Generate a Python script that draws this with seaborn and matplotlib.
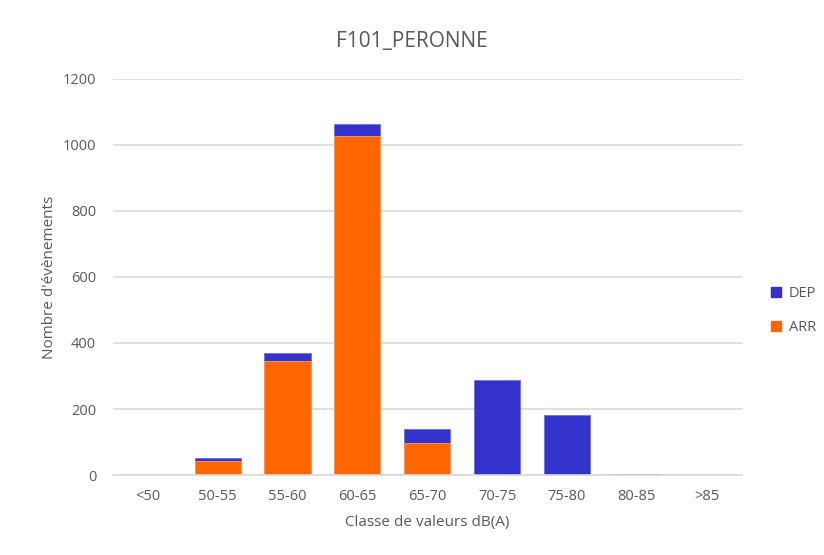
import matplotlib
matplotlib.use('Agg')
import matplotlib.pyplot as plt
import seaborn as sns
import pandas as pd
from matplotlib.patches import Patch

# data
classes = ['<50', '50-55', '55-60', '60-65', '65-70', '70-75', '75-80', '80-85', '>85']
arr = [0, 44, 345, 1026, 96, 0, 0, 0, 0]
dep = [0, 9, 24, 38, 43, 289, 181, 4, 0]

df = pd.DataFrame({'classe': classes, 'ARR': arr, 'DEP': dep})
df['total'] = df['ARR'] + df['DEP']

col_dep = '#3333CC'
col_arr = '#FF6600'
txt = '#595959'
grid = '#D9D9D9'

sns.set_theme(style='white')
plt.rcParams['font.family'] = ['Open Sans', 'DejaVu Sans']

fig = plt.figure(figsize=(8.24, 5.55), dpi=100)
ax = fig.add_axes([0.137, 0.144, 0.763, 0.714])

# stacked: full height in DEP colour, ARR drawn over the lower part
sns.barplot(data=df, x='classe', y='total', color=col_dep, width=0.66,
            edgecolor='#7070DD', linewidth=0.6, saturation=1, ax=ax)
sns.barplot(data=df, x='classe', y='ARR', color=col_arr, width=0.66,
            edgecolor='#FFA060', linewidth=0.6, saturation=1, ax=ax)

ax.set_ylim(0, 1200)
ax.set_yticks(range(0, 1201, 200))
ax.set_xlim(-0.5, len(classes) - 0.5)
ax.yaxis.grid(True, color=grid, linewidth=1.2)
ax.set_axisbelow(True)
for s in ['top', 'right', 'left']:
    ax.spines[s].set_visible(False)
ax.spines['bottom'].set_color(grid)
ax.spines['bottom'].set_linewidth(1.2)
ax.tick_params(axis='both', length=0, colors=txt, labelsize=10.5)
ax.tick_params(axis='x', pad=10)
ax.tick_params(axis='y', pad=12)

ax.set_xlabel('Classe de valeurs dB(A)', color=txt, fontsize=11, labelpad=8)
ax.set_ylabel("Nombre d'évènements", color=txt, fontsize=11, labelpad=4)
fig.text(0.5, 0.925, 'F101_PERONNE', ha='center', va='center', color=txt, fontsize=15)

handles = [Patch(color=col_dep, label='DEP'), Patch(color=col_arr, label='ARR')]
leg = fig.legend(handles=handles, loc='center left', bbox_to_anchor=(0.92, 0.44),
                 frameon=False, fontsize=10.5, handlelength=0.7, handleheight=0.7,
                 handletextpad=0.5, labelspacing=1.3, labelcolor=txt)

plt.savefig('out.png', dpi=100)
plt.close()
